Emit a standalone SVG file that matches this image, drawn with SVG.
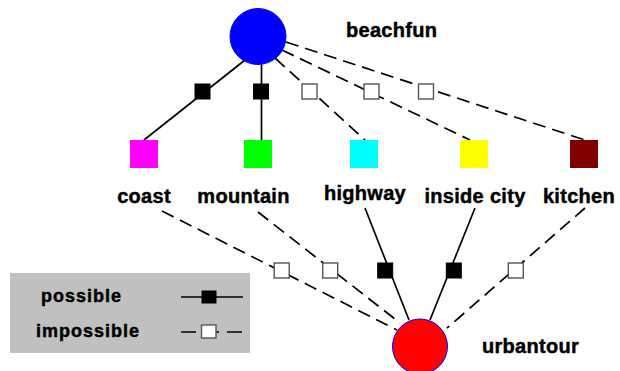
<svg xmlns="http://www.w3.org/2000/svg" width="620" height="371" viewBox="0 0 620 371">
  <style>
    .lbl { font-family: "Liberation Sans", Arial, sans-serif; font-weight: bold; font-size: 20px; fill: #000; stroke: #000; stroke-width: 0.45px; letter-spacing: 0.3px; }
    .leg { font-family: "Liberation Sans", Arial, sans-serif; font-weight: bold; font-size: 18px; fill: #000; stroke: #000; stroke-width: 0.45px; letter-spacing: 1px; }
    .solid { stroke: #000; stroke-width: 1.7; fill: none; }
    .dash { stroke: #000; stroke-width: 1.7; fill: none; stroke-dasharray: 13 7; }
    .legdash { stroke: #000; stroke-width: 1.7; fill: none; stroke-dasharray: 15 8; }
    .pos { fill: #000; stroke: #000; stroke-width: 1; }
    .imp { fill: #fff; stroke: #555; stroke-width: 1.4; }
  </style>

  <!-- connectors: edges with their relation markers -->
  <g id="connectors">
    <!-- beachfun to scene types -->
    <line class="solid" x1="245" y1="60" x2="144" y2="140"/>
    <line class="solid" x1="261.5" y1="63" x2="261.5" y2="140"/>
    <line class="dash" x1="275" y1="58" x2="365" y2="140"/>
    <line class="dash" x1="282" y1="50" x2="470" y2="140"/>
    <line class="dash" x1="286" y1="42" x2="585" y2="140"/>
    <!-- scene types to urbantour -->
    <line class="dash" x1="162" y1="211" x2="397" y2="330"/>
    <line class="dash" x1="258" y1="212" x2="400" y2="323"/>
    <line class="solid" x1="365" y1="208" x2="409" y2="320"/>
    <line class="solid" x1="475" y1="208" x2="430" y2="320"/>
    <line class="dash" x1="585" y1="208" x2="447" y2="328"/>

    <!-- relation markers -->
    <rect class="pos" x="195" y="84" width="15" height="15"/>
    <rect class="pos" x="253.5" y="84" width="15" height="15"/>
    <rect class="imp" x="302" y="84" width="15" height="15"/>
    <rect class="imp" x="364" y="84" width="15" height="15"/>
    <rect class="imp" x="418.5" y="84" width="15" height="15"/>

    <rect class="imp" x="274.2" y="263" width="15" height="15"/>
    <rect class="imp" x="322.7" y="263" width="15" height="15"/>
    <rect class="pos" x="377.7" y="263" width="15" height="15"/>
    <rect class="pos" x="446.3" y="263" width="15" height="15"/>
    <rect class="imp" x="508.3" y="263" width="15" height="15"/>
  </g>

  <!-- activity nodes -->
  <g id="beachfun">
    <circle cx="258" cy="36.5" r="28" fill="#0000ff" stroke="#0000ff" stroke-width="1"/>
    <text class="lbl" x="346" y="37">beachfun</text>
  </g>
  <g id="urbantour">
    <circle cx="420" cy="346.5" r="27.5" fill="#ff0000" stroke="#0000ff" stroke-width="1"/>
    <text class="lbl" x="482" y="353">urbantour</text>
  </g>

  <!-- scene type nodes -->
  <g id="coast">
    <rect x="130" y="140" width="28" height="28" fill="#ff00ff"/>
    <text class="lbl" x="144" y="203" text-anchor="middle">coast</text>
  </g>
  <g id="mountain">
    <rect x="244" y="140" width="28" height="28" fill="#00ff00"/>
    <text class="lbl" x="243.5" y="203" text-anchor="middle">mountain</text>
  </g>
  <g id="highway">
    <rect x="350" y="140" width="28" height="28" fill="#00ffff"/>
    <text class="lbl" x="365" y="200" text-anchor="middle">highway</text>
  </g>
  <g id="insidecity">
    <rect x="460" y="140" width="28" height="28" fill="#ffff00"/>
    <text class="lbl" x="475" y="203" text-anchor="middle">inside city</text>
  </g>
  <g id="kitchen">
    <rect x="570" y="140" width="28" height="28" fill="#800000"/>
    <text class="lbl" x="579" y="203" text-anchor="middle">kitchen</text>
  </g>

  <!-- legend -->
  <g id="legend">
    <rect x="10" y="273" width="240" height="80" fill="#c0c0c0"/>
    <text class="leg" x="41" y="302">possible</text>
    <text class="leg" x="36" y="337">impossible</text>
    <line class="solid" x1="181" y1="297" x2="243" y2="297"/>
    <rect class="pos" x="202" y="291" width="14" height="12"/>
    <line class="legdash" x1="181" y1="332" x2="243" y2="332"/>
    <rect class="imp" x="201.5" y="325" width="14.5" height="13"/>
  </g>
</svg>
